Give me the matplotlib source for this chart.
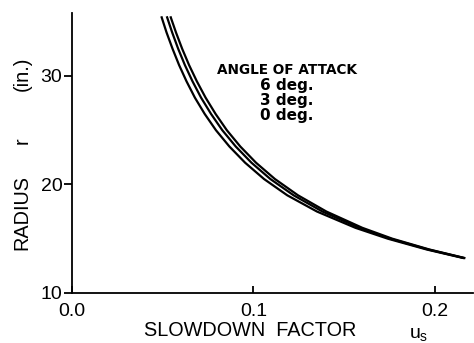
import matplotlib.pyplot as plt

# radius (in.), shared by all three angles
radius = [35.5, 34, 32.5, 31, 29.5, 28, 26.5, 25, 23.5, 22, 20.5, 19, 17.5, 16, 15, 14, 13.2]

# slowdown factor u_s at each radius, per angle of attack
us_0deg = [0.0492, 0.0521, 0.0554, 0.0590, 0.0631, 0.0677, 0.0731, 0.0793, 0.0867, 0.0954,
           0.1058, 0.1186, 0.1350, 0.1562, 0.1740, 0.1955, 0.2160]
us_3deg = [0.0522, 0.0552, 0.0585, 0.0622, 0.0664, 0.0711, 0.0766, 0.0828, 0.0902, 0.0989,
           0.1093, 0.1221, 0.1380, 0.1584, 0.1754, 0.1964, 0.2165]
us_6deg = [0.0542, 0.0573, 0.0607, 0.0645, 0.0688, 0.0736, 0.0791, 0.0853, 0.0927, 0.1014,
           0.1118, 0.1245, 0.1402, 0.1600, 0.1765, 0.1970, 0.2168]

legend_lines = ["ANGLE OF ATTACK", "6 deg.", "3 deg.", "0 deg."]

plt.rcParams['font.family'] = ['Liberation Sans', 'DejaVu Sans']

fig = plt.figure(figsize=(4.74, 3.43), dpi=100)
ax = fig.add_axes([0.152, 0.146, 0.846, 0.816])

for us in (us_0deg, us_3deg, us_6deg):
  ax.plot(us, radius, color='black', linewidth=1.6, solid_capstyle='butt')

ax.set_xlim(0, 0.221)
ax.set_ylim(10, 35.8)
ax.set_xticks([0.0, 0.1, 0.2])
ax.set_xticklabels(["0.0", "0.1", "0.2"])
ax.set_yticks([10, 20, 30])
ax.set_yticklabels(["10", "20", "30"])

for side in ('top', 'right'):
  ax.spines[side].set_visible(False)
for side in ('left', 'bottom'):
  ax.spines[side].set_linewidth(1.3)

ax.tick_params(axis='x', direction='in', length=5, width=1.3, labelsize=14, pad=7)
ax.tick_params(axis='y', direction='out', length=6, width=1.3, labelsize=14, pad=1)

# legend-like text block
y0 = 0.795
for i, t in enumerate(legend_lines):
  fig.text(0.605, y0 - i * 0.044, t, ha='center', va='center',
           fontsize=9.8 if i == 0 else 11, family='DejaVu Sans', fontweight='bold')

# axis titles
fig.text(0.528, 0.035, "SLOWDOWN  FACTOR", ha='center', va='center', fontsize=14.3)
fig.text(0.875, 0.028, "u", ha='center', va='center', fontsize=14)
fig.text(0.893, 0.018, "s", ha='center', va='center', fontsize=10)

fig.text(0.047, 0.38, "RADIUS", rotation=90, ha='center', va='center', fontsize=14.3)
fig.text(0.047, 0.59, "r", rotation=90, ha='center', va='center', fontsize=14.3)
fig.text(0.047, 0.785, "(in.)", rotation=90, ha='center', va='center', fontsize=14.3)

fig.savefig("out.png", dpi=100)
